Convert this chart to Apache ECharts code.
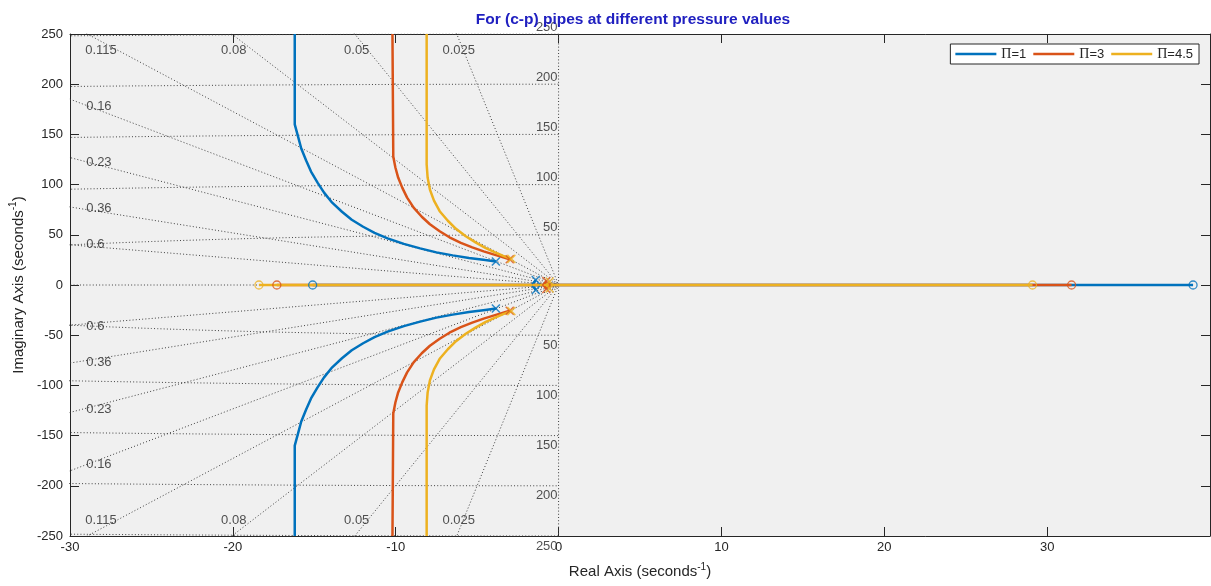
<!DOCTYPE html>
<html><head><meta charset="utf-8">
<script src="https://cdn.jsdelivr.net/npm/echarts@6/dist/echarts.min.js"></script>
<style>html,body{margin:0;padding:0;background:#fff}#c{width:1211px;height:586px}</style>
</head><body><div id="c"></div>
<script>
// ---------------- data ----------------
const seriesNames = ['Π=1', 'Π=3', 'Π=4.5'];
const colors = ['#0072BD', '#D95319', '#EDB120'];

// upper complex branch of each locus, from the pole outward (lower branch = conjugate)
const branchPi1 = [[-3.85,23.5],[-4.5,24.8],[-5.5,27],[-6.5,29.5],[-7.5,32.5],[-8.5,36.5],[-9.5,41],[-10.5,46.5],[-11.3,52],[-12.0,58],[-12.7,65],[-13.3,73],[-13.9,82],[-14.4,92],[-14.8,102],[-15.2,113],[-15.5,124],[-15.8,136],[-16.0,148],[-16.2,160],[-16.2,250]];
const branchPi3 = [[-3.0,25.7],[-3.5,28],[-4.0,30.5],[-4.6,33.5],[-5.3,37.5],[-6.0,42],[-6.7,47.5],[-7.3,53.5],[-7.9,60.5],[-8.4,68],[-8.9,77],[-9.3,87],[-9.6,97],[-9.85,107],[-10.02,117],[-10.15,128],[-10.2,250]];
const branchPi45 = [[-2.9,26],[-3.4,29],[-3.9,32.5],[-4.5,37],[-5.1,42.5],[-5.7,48.5],[-6.3,56],[-6.8,64],[-7.3,73.5],[-7.65,84],[-7.9,95],[-8.04,107],[-8.1,120],[-8.1,250]];
const branches = [branchPi1, branchPi3, branchPi45];

// poles near origin (upper of conjugate pair) and their break-in point on the real axis
const polesNear = [[-1.4,5],[-0.75,4],[-0.55,3.5]];
const breakIn = [-1.6,-0.9,-0.7];
// zeros on the real axis
const zerosLeft = [-15.1,-17.3,-18.4];
const zerosRight = [38.96,31.5,29.1];

// s-grid
const dampingRatios = [0.025,0.05,0.08,0.115,0.16,0.23,0.36,0.6];
const dampingLabels = ['0.025','0.05','0.08','0.115','0.16','0.23','0.36','0.6'];
const freqValues = [50,100,150,200,250];

const xRange = [-30, 40], xStep = 10;
const yRange = [-250, 250], yStep = 50;

// ---------------- build ----------------
const FONT = 'Liberation Sans, Arial, sans-serif';
const TXT = '#262626';
const GRIDC = '#404040';
const series = [];
const mirror = pts => pts.map(p => [p[0], -p[1]]);

function dotted(data) {
  return {type:'line', data, silent:true, showSymbol:false, symbol:'none', z:1,
    lineStyle:{color:GRIDC, width:1, type:[1,2.2]}, clip:true, animation:false};
}
// damping lines
const W = 2000;
dampingRatios.forEach(z => {
  const s = Math.sqrt(1 - z*z);
  series.push(dotted([[-z*W, s*W],[0,0],[-z*W,-s*W]]));
});
series.push(dotted([[0,W],[0,-W]]));   // zeta = 0
series.push(dotted([[-W,0],[0,0]]));   // zeta = 1
// frequency circles
freqValues.forEach(r => {
  const pts = [];
  for (let a = 90; a <= 270; a += 0.5) {
    const t = a*Math.PI/180;
    pts.push([r*Math.cos(t), r*Math.sin(t)]);
  }
  series.push(dotted(pts));
});

// locus series
seriesNames.forEach((name, i) => {
  const c = colors[i];
  const lineBase = {type:'line', name, showSymbol:false, symbol:'none', clip:true, z:3+i, animation:false,
    lineStyle:{color:c, width:2.5}, itemStyle:{color:c}};
  series.push(Object.assign({}, lineBase, {data: branches[i]}));
  series.push(Object.assign({}, lineBase, {data: mirror(branches[i])}));
  series.push(Object.assign({}, lineBase, {data: [[zerosLeft[i],0],[zerosRight[i],0]]}));
  series.push(Object.assign({}, lineBase, {data: [polesNear[i],[breakIn[i],0],[polesNear[i][0],-polesNear[i][1]]]}));
  // poles (x)
  series.push({type:'scatter', name, z:6+i, animation:false,
    symbol:'path://M0,0L10,10M10,0L0,10', symbolSize:8,
    itemStyle:{color:'transparent', borderColor:c, borderWidth:1.5},
    data:[branches[i][0], [branches[i][0][0], -branches[i][0][1]], polesNear[i], [polesNear[i][0], -polesNear[i][1]]]});
  // zeros (o)
  series.push({type:'scatter', name, z:6+i, animation:false, symbol:'circle', symbolSize:8,
    itemStyle:{color:'transparent', borderColor:c, borderWidth:1.3},
    data:[[zerosLeft[i],0],[zerosRight[i],0]]});
});

// grid labels
const lblStyle = {color:TXT, fontSize:13, fontFamily:FONT};
const topLbl = [], leftLbl = [];
dampingRatios.forEach((z, i) => {
  const slope = Math.sqrt(1 - z*z)/z;
  if (slope*(-xRange[0]) > yRange[1]*0.97) {
    const xTop = Math.max(-yRange[1]/slope + 0.12, xRange[0] + 1.9);
    topLbl.push({value:[xTop, 234], name:dampingLabels[i]});
    topLbl.push({value:[xTop, -234], name:dampingLabels[i]});
  } else {
    const y = slope*28.5;
    leftLbl.push({value:[-29.0, y], name:dampingLabels[i], label:{offset:[0,-2]}});
    leftLbl.push({value:[-29.0, -y], name:dampingLabels[i], label:{offset:[0,3]}});
  }
});
series.push({type:'scatter', silent:true, symbolSize:0, z:2, clip:false, animation:false, data:topLbl,
  label:Object.assign({show:true, position:'inside', formatter:p=>p.name}, lblStyle)});
series.push({type:'scatter', silent:true, symbolSize:0, z:2, clip:false, animation:false, data:leftLbl,
  label:Object.assign({show:true, position:'right', distance:0, formatter:p=>p.name}, lblStyle)});
const freqLbl = [];
freqValues.forEach(r => {
  freqLbl.push({value:[0, r], name:String(r), label:{offset:[0,-7]}});
  freqLbl.push({value:[0, -r], name:String(r), label:{offset:[0,10]}});
});
series.push({type:'scatter', silent:true, symbolSize:0, z:2, clip:false, animation:false, data:freqLbl,
  label:Object.assign({show:true, position:'left', distance:1, formatter:p=>p.name}, lblStyle)});

const axisCommon = {
  axisLine:{show:true, onZero:false, lineStyle:{color:TXT, width:1}},
  axisTick:{show:true, inside:true, length:9, lineStyle:{color:TXT}},
  splitLine:{show:false}
};

const option = {
  animation:false,
  backgroundColor:'#ffffff',
  textStyle:{fontFamily:FONT},
  title:{text:'For (c-p) pipes at different pressure values', left:628, top:7, textAlign:'center',
    textStyle:{color:'#2020c0', fontSize:15.5, fontWeight:'bold', fontFamily:FONT}},
  grid:{left:70, right:1, top:34, bottom:50, show:true, backgroundColor:'#f0f0f0', borderWidth:0},
  legend:{data:seriesNames, right:12, top:44, itemWidth:41, itemHeight:2.5, icon:'rect', itemGap:7,
    padding:[3,6,3,5], borderColor:TXT, borderWidth:1, backgroundColor:'#ffffff',
    formatter: n => '{s|Π}' + n.slice(1),
    textStyle:{color:TXT, fontSize:13, fontFamily:FONT, rich:{s:{fontFamily:'Liberation Serif, serif', fontSize:14, color:TXT}}}},
  xAxis:[
    Object.assign({type:'value', min:xRange[0], max:xRange[1], interval:xStep, position:'bottom',
      name:'Real Axis (seconds{sup|-1})', nameLocation:'middle', nameGap:26,
      nameTextStyle:{color:TXT, fontSize:15, fontFamily:FONT, rich:{sup:{fontSize:10, color:TXT, padding:[0,0,10,0]}}},
      axisLabel:{color:TXT, fontSize:13, margin:5, showMaxLabel:false}}, axisCommon),
    Object.assign({type:'value', min:xRange[0], max:xRange[1], interval:xStep, position:'top',
      axisLabel:{show:false}}, axisCommon)
  ],
  yAxis:[
    Object.assign({type:'value', min:yRange[0], max:yRange[1], interval:yStep, position:'left',
      name:'Imaginary Axis (seconds{sup|-1})', nameLocation:'middle', nameGap:41, nameRotate:90,
      nameTextStyle:{color:TXT, fontSize:15, fontFamily:FONT, rich:{sup:{fontSize:10, color:TXT, padding:[0,0,10,0]}}},
      axisLabel:{color:TXT, fontSize:13, margin:7}}, axisCommon),
    Object.assign({type:'value', min:yRange[0], max:yRange[1], interval:yStep, position:'right',
      axisLabel:{show:false}}, axisCommon)
  ],
  series
};
const chart = echarts.init(document.getElementById('c'), null, {renderer:'canvas'});
chart.setOption(option);
</script></body></html>
